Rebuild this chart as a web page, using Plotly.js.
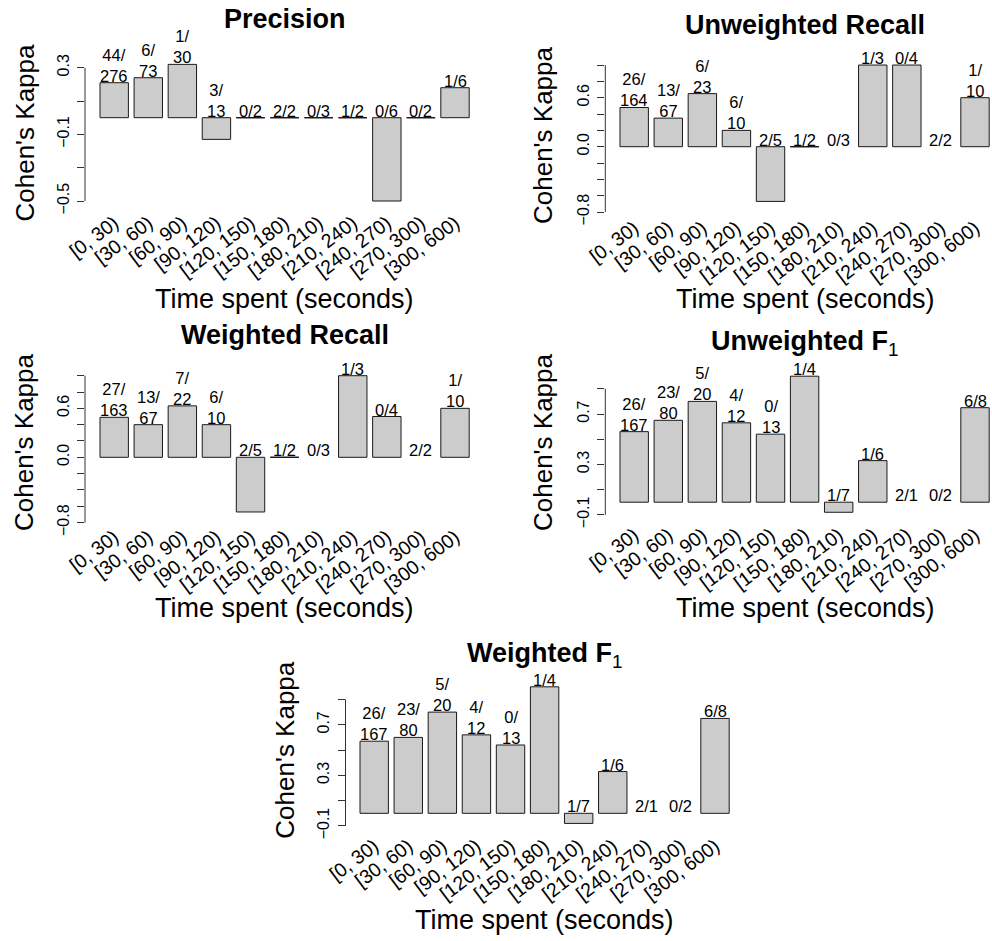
<!DOCTYPE html>
<html>
<head>
<meta charset="utf-8">
<script src="https://cdn.plot.ly/plotly-3.0.1.min.js"></script>
<style>html,body{margin:0;padding:0;background:#fff;}</style>
</head>
<body>
<div id="chart" style="width:992px;height:941px;"></div>
<script>
// Time bins shared by every panel
const timeBins = ['[0, 30)', '[30, 60)', '[60, 90)', '[90, 120)', '[120, 150)', '[150, 180)',
                  '[180, 210)', '[210, 240)', '[240, 270)', '[270, 300)', '[300, 600)'];

// Cohen's kappa per bin (null = kappa undefined, no bar)
const precisionKappa  = [0.21, 0.24, 0.32, -0.13, 0, 0, 0, 0, -0.50, 0, 0.18];
const precisionHits   = [44, 6, 1, 3, 0, 2, 0, 1, 0, 0, 1];
const precisionTotals = [276, 73, 30, 13, 2, 2, 3, 2, 6, 2, 6];

const unweightedRecallKappa  = [0.48, 0.35, 0.65, 0.20, -0.67, 0, null, 1.0, 1.0, null, 0.60];
const unweightedRecallHits   = [26, 13, 6, 6, 2, 1, 0, 1, 0, 2, 1];
const unweightedRecallTotals = [164, 67, 23, 10, 5, 2, 3, 3, 4, 2, 10];

const weightedRecallKappa  = [0.49, 0.40, 0.63, 0.40, -0.67, 0, null, 1.0, 0.50, null, 0.60];
const weightedRecallHits   = [27, 13, 7, 6, 2, 1, 0, 1, 0, 2, 1];
const weightedRecallTotals = [163, 67, 22, 10, 5, 2, 3, 3, 4, 2, 10];

const unweightedF1Kappa  = [0.56, 0.65, 0.80, 0.63, 0.54, 1.0, -0.08, 0.33, null, null, 0.75];
const unweightedF1Hits   = [26, 23, 5, 4, 0, 1, 1, 1, 2, 0, 6];
const unweightedF1Totals = [167, 80, 20, 12, 13, 4, 7, 6, 1, 2, 8];

const weightedF1Kappa  = [0.57, 0.60, 0.80, 0.62, 0.54, 1.0, -0.08, 0.33, null, null, 0.75];
const weightedF1Hits   = [26, 23, 5, 4, 0, 1, 1, 1, 2, 0, 6];
const weightedF1Totals = [167, 80, 20, 12, 13, 4, 7, 6, 1, 2, 8];

// y-axis ticks (blank text = unlabelled tick)
const precisionTicks    = [-0.5, -0.3, -0.1, 0.1, 0.3];
const precisionTickText = ['\u22120.5', '', '\u22120.1', '', '0.3'];
const recallTicks    = [-0.8, -0.6, -0.4, -0.2, 0.0, 0.2, 0.4, 0.6, 0.8, 1.0];
const recallTickText = ['\u22120.8', '', '', '', '0.0', '', '', '0.6', '', ''];
const f1Ticks    = [-0.1, 0.1, 0.3, 0.5, 0.7, 0.9];
const f1TickText = ['\u22120.1', '', '0.3', '', '0.7', ''];

const panelTitles = ['<b>Precision</b>', '<b>Unweighted Recall</b>', '<b>Weighted Recall</b>',
                     '<b>Unweighted F</b><sub>1</sub>', '<b>Weighted F</b><sub>1</sub>'];
const yTitle = "Cohen's Kappa";
const xTitle = 'Time spent (seconds)';

const W = 992, H = 941;
const FONT = 'Liberation Sans, Arial, Helvetica, sans-serif';

// Panel geometry in pixels: plot box, first-bar centre, bar pitch, zero line, px per unit
const panels = [
  {kappa: precisionKappa, hits: precisionHits, totals: precisionTotals, ticks: precisionTicks, tickText: precisionTickText,
   left: 85, right: 484, top: 56, bottom: 207, lift: 0, x0: 114.2, step: 34.08, y0: 117.7, ys: 166.6,
   cx: 284.5, titleY: 19.2, xtY: 299.5, ytX: 24, ytY: 132.5},
  {kappa: unweightedRecallKappa, hits: unweightedRecallHits, totals: unweightedRecallTotals, ticks: recallTicks, tickText: recallTickText,
   left: 605.3, right: 992, top: 56, bottom: 219, lift: -7, x0: 634.2, step: 34.08, y0: 146.7, ys: 81.67,
   cx: 805, titleY: 24.7, xtY: 299.5, ytX: 543, ytY: 135},
  {kappa: weightedRecallKappa, hits: weightedRecallHits, totals: weightedRecallTotals, ticks: recallTicks, tickText: recallTickText,
   left: 85, right: 484, top: 366, bottom: 529, lift: -8, x0: 114.2, step: 34.08, y0: 457.3, ys: 81.6,
   cx: 284.5, titleY: 335, xtY: 608, ytX: 24, ytY: 442},
  {kappa: unweightedF1Kappa, hits: unweightedF1Hits, totals: unweightedF1Totals, ticks: f1Ticks, tickText: f1TickText,
   left: 605.3, right: 992, top: 366, bottom: 519, lift: 0, x0: 634.2, step: 34.08, y0: 502.2, ys: 126,
   cx: 805, titleY: 343, xtY: 608, ytX: 543, ytY: 442},
  {kappa: weightedF1Kappa, hits: weightedF1Hits, totals: weightedF1Totals, ticks: f1Ticks, tickText: f1TickText,
   left: 345.5, right: 744, top: 678, bottom: 830, lift: 0, x0: 374.2, step: 34.08, y0: 813.3, ys: 126.5,
   cx: 544.6, titleY: 654.7, xtY: 920, ytX: 284.7, ytY: 750}
];

const traces = [];
const layout = {
  width: W, height: H,
  margin: {l: 0, r: 0, t: 0, b: 0},
  paper_bgcolor: '#ffffff', plot_bgcolor: 'rgba(0,0,0,0)',
  showlegend: false,
  bargap: 1 - 1 / 1.2,
  font: {family: FONT, color: '#000'},
  annotations: [], shapes: []
};

const px = x => x / W;
const py = y => 1 - y / H;
const HALF_BAR = 0.5 / 1.2;

panels.forEach((p, i) => {
  const n = i === 0 ? '' : String(i + 1);
  const xa = 'x' + n, ya = 'y' + n;

  traces.push({
    type: 'bar', x: timeBins, y: p.kappa,
    xaxis: xa, yaxis: ya,
    marker: {color: '#cccccc', line: {color: '#1a1a1a', width: 1}},
    hoverinfo: 'skip'
  });

  layout['xaxis' + n] = {
    type: 'category', anchor: ya,
    domain: [px(p.left), px(p.right)],
    range: [(p.left - p.x0) / p.step, (p.right - p.x0) / p.step],
    showgrid: false, zeroline: false, showline: false, ticks: '',
    tickangle: -37, ticklabelstandoff: p.lift,
    tickfont: {family: FONT, size: 19.5, color: '#000'},
    fixedrange: true, automargin: false
  };
  layout['yaxis' + n] = {
    anchor: xa,
    domain: [py(p.bottom), py(p.top)],
    range: [(p.y0 - p.bottom) / p.ys, (p.y0 - p.top) / p.ys],
    tickmode: 'array', tickvals: p.ticks, ticktext: p.tickText,
    ticks: 'outside', ticklen: 7, tickwidth: 1, tickcolor: '#333',
    tickangle: -90, ticklabelstandoff: 2,
    tickfont: {family: FONT, size: 16, color: '#000'},
    showgrid: false, zeroline: false, showline: false,
    fixedrange: true, automargin: false
  };

  // axis line spans only the tick range
  layout.shapes.push({
    type: 'line', xref: xa + ' domain', yref: ya,
    x0: 0, x1: 0, y0: p.ticks[0], y1: p.ticks[p.ticks.length - 1],
    line: {color: '#333', width: 1}
  });

  p.kappa.forEach((v, k) => {
    // zero-height bars are drawn as a flat outline
    if (v === 0) {
      layout.shapes.push({
        type: 'line', xref: xa, yref: ya,
        x0: k - HALF_BAR, x1: k + HALF_BAR, y0: v, y1: v,
        line: {color: '#1a1a1a', width: 1}
      });
    }
    const a = String(p.hits[k]), b = String(p.totals[k]);
    const txt = (a.length + b.length + 1 > 3) ? a + '/<br>' + b : a + '/' + b;
    layout.annotations.push({
      xref: xa, yref: ya, x: timeBins[k], y: v === null ? 0 : Math.max(v, 0),
      text: txt, showarrow: false, xanchor: 'center', yanchor: 'bottom', yshift: -4,
      font: {family: FONT, size: 16.5, color: '#000'}
    });
  });

  layout.annotations.push({
    xref: 'paper', yref: 'paper', x: px(p.cx), y: py(p.titleY),
    xanchor: 'center', yanchor: 'middle', showarrow: false,
    text: panelTitles[i],
    font: {family: FONT, size: 27, color: '#000'}
  });
  layout.annotations.push({
    xref: 'paper', yref: 'paper', x: px(p.cx), y: py(p.xtY),
    xanchor: 'center', yanchor: 'middle', showarrow: false,
    text: xTitle, font: {family: FONT, size: 27, color: '#000'}
  });
  layout.annotations.push({
    xref: 'paper', yref: 'paper', x: px(p.ytX), y: py(p.ytY),
    xanchor: 'center', yanchor: 'middle', showarrow: false, textangle: -90,
    text: yTitle, font: {family: FONT, size: 26, color: '#000'}
  });
});

Plotly.newPlot('chart', traces, layout, {staticPlot: true, displayModeBar: false});
</script>
</body>
</html>
